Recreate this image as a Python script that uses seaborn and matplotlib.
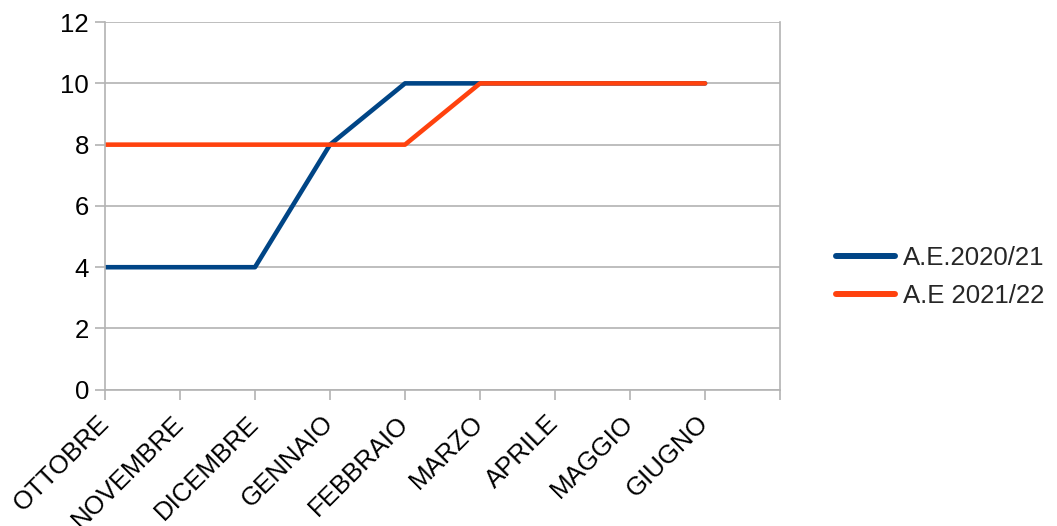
import matplotlib
matplotlib.use("Agg")
import matplotlib.pyplot as plt
import seaborn as sns
import pandas as pd

months = ["OTTOBRE", "NOVEMBRE", "DICEMBRE", "GENNAIO", "FEBBRAIO",
          "MARZO", "APRILE", "MAGGIO", "GIUGNO"]
ae_2020_21 = [4, 4, 4, 8, 10, 10, 10, 10, 10]
ae_2021_22 = [8, 8, 8, 8, 8, 10, 10, 10, 10]
series_names = ["A.E.2020/21", "A.E 2021/22"]
colors = ["#004586", "#ff420e"]

sns.set_theme(style="white")
plt.rcParams["font.family"] = ["Liberation Sans", "DejaVu Sans"]

df = pd.DataFrame({
    "x": list(range(len(months))) * 2,
    "value": ae_2020_21 + ae_2021_22,
    "serie": [series_names[0]] * len(months) + [series_names[1]] * len(months),
})

fs = 18.5
fig = plt.figure(figsize=(10.57, 5.26), dpi=100)
ax = fig.add_axes([0.0993, 0.259, 0.6387, 0.699])

sns.lineplot(data=df, x="x", y="value", hue="serie", palette=colors,
             linewidth=3.3, ax=ax, legend=True)

grid_c = "#b3b3b3"
ax.set_xlim(0, len(months))
ax.set_ylim(0, 12)
ax.set_yticks(range(0, 13, 2))
ax.set_xticks(range(len(months) + 1))
ax.set_xticklabels(months + [""], rotation=45, ha="right", va="center",
                   rotation_mode="anchor", fontsize=fs, color="black")
ax.tick_params(axis="y", labelsize=fs, colors="black", length=7.5,
               width=1.2, color=grid_c, pad=4)
ax.tick_params(axis="x", length=7.5, width=1.2, color=grid_c, pad=14,
               direction="out", bottom=True)
ax.tick_params(axis="y", left=True, direction="out")
ax.yaxis.grid(True, color=grid_c, linewidth=1.2)
ax.set_axisbelow(True)
for side in ["left", "right", "bottom"]:
    ax.spines[side].set_visible(True)
    ax.spines[side].set_color(grid_c)
    ax.spines[side].set_linewidth(1.2)
ax.spines["top"].set_visible(False)
ax.set_xlabel("")
ax.set_ylabel("")

handles, labels = ax.get_legend_handles_labels()
ax.get_legend().remove()
leg = fig.legend(handles, labels, loc="center left",
                 bbox_to_anchor=(0.791, 0.474), frameon=False,
                 fontsize=fs, handlelength=2.3, handletextpad=0.3,
                 labelspacing=0.55, borderaxespad=0, borderpad=0)
for line in leg.get_lines():
    line.set_linewidth(4.3)

fig.savefig("out.png", dpi=100, facecolor="white")
